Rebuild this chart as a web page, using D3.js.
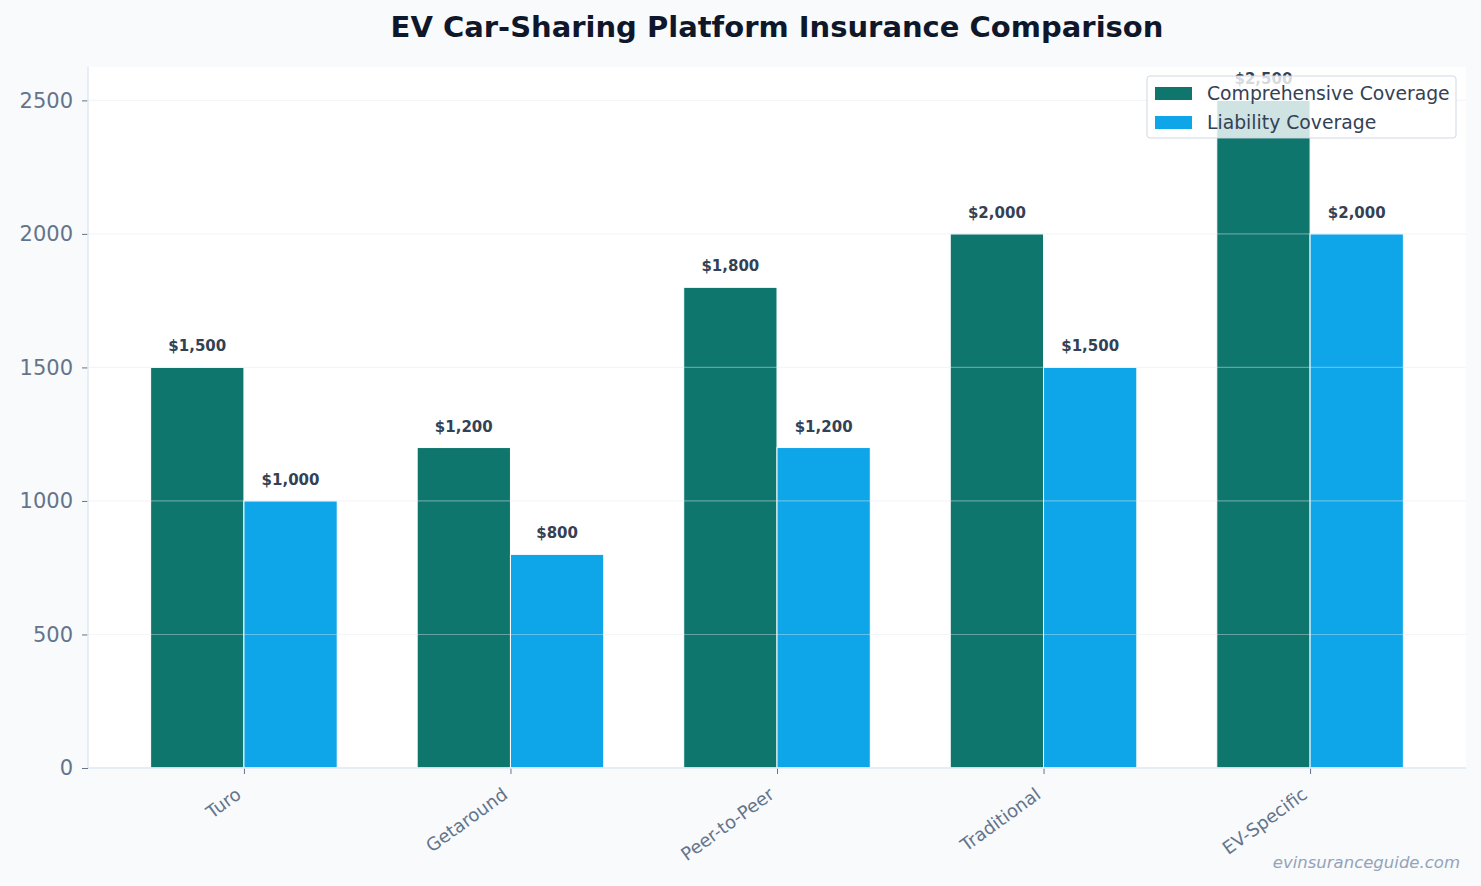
<!DOCTYPE html>
<html>
<head>
<meta charset="utf-8">
<script src="https://cdn.jsdelivr.net/npm/d3@7/dist/d3.min.js"></script>
<style>
  html, body { margin: 0; padding: 0; background: #f8fafc; }
  svg { display: block; font-family: "DejaVu Sans", sans-serif; }
</style>
</head>
<body>
<div id="chart"></div>
<script>
const categories = ['Turo', 'Getaround', 'Peer-to-Peer', 'Traditional', 'EV-Specific'];
const comprehensive = [1500, 1200, 1800, 2000, 2500];
const liability = [1000, 800, 1200, 1500, 2000];
const yTicks = [0, 500, 1000, 1500, 2000, 2500];
const seriesNames = ['Comprehensive Coverage', 'Liability Coverage'];
const seriesColors = ['#0f766e', '#0ea5e9'];

const width = 1481;
const height = 886;
const margin = { top: 67, right: 15, bottom: 118, left: 88 };
const plotW = width - margin.left - margin.right;
const plotH = height - margin.top - margin.bottom;
const barW = 0.35;

const svg = d3.select('#chart')
  .append('svg')
  .attr('width', width)
  .attr('height', height);

svg.append('rect')
  .attr('width', width)
  .attr('height', height)
  .attr('fill', '#f8fafc');

const x = d3.scaleLinear()
  .domain([-0.585, categories.length - 1 + 0.585])
  .range([0, plotW]);

const y = d3.scaleLinear()
  .domain([0, 2625])
  .range([plotH, 0]);

const g = svg.append('g')
  .attr('transform', `translate(${margin.left},${margin.top})`);

g.append('rect')
  .attr('width', plotW)
  .attr('height', plotH)
  .attr('fill', '#ffffff');

// bars
const series = [comprehensive, liability];
series.forEach((vals, si) => {
  const offset = si === 0 ? -barW / 2 : barW / 2;
  g.append('g')
    .attr('class', 'bars')
    .selectAll('rect')
    .data(vals)
    .enter()
    .append('rect')
    .attr('x', (d, i) => x(i + offset - barW / 2))
    .attr('y', d => y(d))
    .attr('width', x(barW) - x(0))
    .attr('height', d => y(0) - y(d))
    .attr('fill', seriesColors[si])
    .attr('stroke', '#ffffff')
    .attr('stroke-width', 1);

  g.append('g')
    .attr('class', 'values')
    .selectAll('text')
    .data(vals)
    .enter()
    .append('text')
    .attr('x', (d, i) => x(i + offset))
    .attr('y', d => y(d) - 16)
    .attr('text-anchor', 'middle')
    .attr('font-size', 15)
    .attr('font-weight', 'bold')
    .attr('fill', '#334155')
    .text(d => '$' + d3.format(',')(d));
});

// grid over bars
g.append('g')
  .attr('class', 'grid')
  .selectAll('line')
  .data(yTicks)
  .enter()
  .append('line')
  .attr('x1', 0)
  .attr('x2', plotW)
  .attr('y1', d => y(d))
  .attr('y2', d => y(d))
  .attr('stroke', '#e2e8f0')
  .attr('stroke-opacity', 0.4)
  .attr('stroke-width', 1.2);

// axes
const yAxis = d3.axisLeft(y)
  .tickValues(yTicks)
  .tickSize(6)
  .tickPadding(9)
  .tickFormat(d3.format('d'));

const yg = g.append('g').attr('class', 'y axis').call(yAxis);
yg.select('.domain').remove();
yg.selectAll('.tick line').attr('stroke', '#64748b');
yg.selectAll('.tick text')
  .attr('fill', '#64748b')
  .attr('font-size', 21)
  .attr('font-family', '"DejaVu Sans", sans-serif');

const xAxis = d3.axisBottom(x)
  .tickValues(d3.range(categories.length))
  .tickSize(6)
  .tickFormat(i => categories[i]);

const xg = g.append('g')
  .attr('class', 'x axis')
  .attr('transform', `translate(0,${plotH})`)
  .call(xAxis);
xg.select('.domain').remove();
xg.selectAll('.tick line').attr('stroke', '#64748b');
xg.selectAll('.tick text')
  .attr('fill', '#64748b')
  .attr('font-size', 18)
  .attr('font-family', '"DejaVu Sans", sans-serif')
  .attr('text-anchor', 'end')
  .attr('dy', null)
  .attr('y', 0)
  .attr('transform', 'translate(-2,29) rotate(-36)');

// spines
g.append('line')
  .attr('x1', 0).attr('x2', 0)
  .attr('y1', 0).attr('y2', plotH)
  .attr('stroke', '#e2e8f0').attr('stroke-width', 1.5);
g.append('line')
  .attr('x1', 0).attr('x2', plotW)
  .attr('y1', plotH).attr('y2', plotH)
  .attr('stroke', '#e2e8f0').attr('stroke-width', 1.5);

// legend
const legend = g.append('g')
  .attr('transform', `translate(${plotW - 319},9)`);
legend.append('rect')
  .attr('width', 309)
  .attr('height', 62)
  .attr('rx', 3)
  .attr('fill', '#ffffff')
  .attr('fill-opacity', 0.8)
  .attr('stroke', '#cbd5e1')
  .attr('stroke-opacity', 0.9);
seriesNames.forEach((name, i) => {
  const row = legend.append('g')
    .attr('transform', `translate(8,${17 + i * 29})`);
  row.append('rect')
    .attr('x', 0).attr('y', -6)
    .attr('width', 37).attr('height', 13)
    .attr('fill', seriesColors[i]);
  row.append('text')
    .attr('x', 52)
    .attr('dy', '0.35em')
    .attr('font-size', 18.8)
    .attr('fill', '#334155')
    .text(name);
});

// title
svg.append('text')
  .attr('x', margin.left + plotW / 2)
  .attr('y', 37)
  .attr('text-anchor', 'middle')
  .attr('font-size', 29)
  .attr('font-weight', 'bold')
  .attr('fill', '#0f172a')
  .text('EV Car-Sharing Platform Insurance Comparison');

// watermark
svg.append('text')
  .attr('x', 1460)
  .attr('y', 868)
  .attr('text-anchor', 'end')
  .attr('font-size', 16.5)
  .attr('font-style', 'italic')
  .attr('fill', '#94a3b8')
  .text('evinsuranceguide.com');
</script>
</body>
</html>
